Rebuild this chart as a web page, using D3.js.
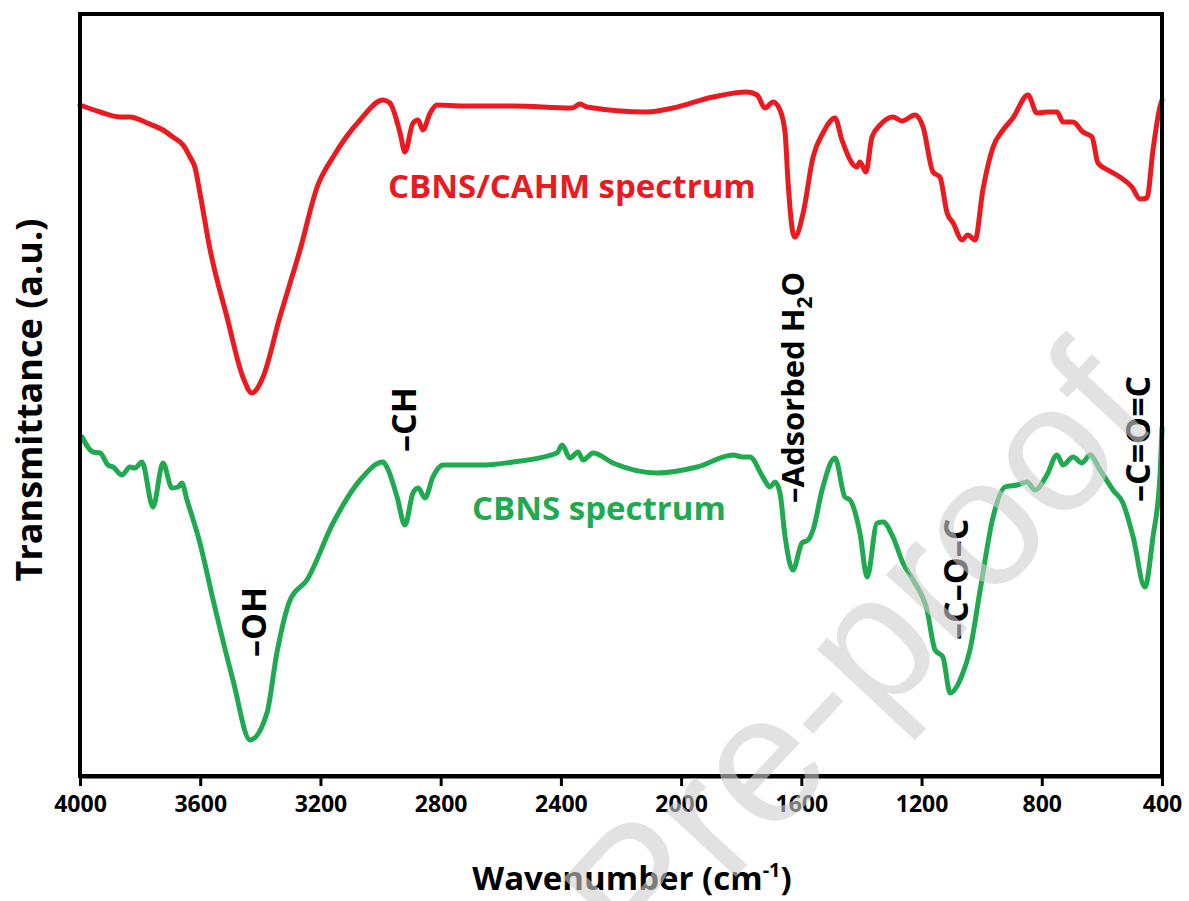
<!DOCTYPE html>
<html>
<head>
    <meta charset="utf-8">
    <title>FTIR spectra</title>
    <script src="https://cdnjs.cloudflare.com/ajax/libs/d3/7.8.5/d3.min.js"></script>
    <style>
        body { margin: 0; background: #fff; }
        text { font-family: "Open Sans", "DejaVu Sans", sans-serif; font-weight: bold; }
    </style>
</head>
<body>
<script type="text/javascript">
    // CBNS/CAHM spectrum (red) - wavenumber (cm-1) and transmittance (a.u.)
    var cahmWn = [4000, 3933, 3867, 3834, 3777, 3724, 3691, 3657, 3634, 3617, 3601, 3567, 3511, 3458, 3428,
        3391, 3335, 3311, 3268, 3211, 3158, 3068, 2992, 2969, 2935, 2919, 2892, 2875, 2859, 2835, 2812,
        2726, 2559, 2363, 2336, 2313, 2113, 2027, 1894, 1781, 1747, 1721, 1694, 1671, 1654, 1644, 1628,
        1621, 1594, 1561, 1528, 1488, 1465, 1415, 1405, 1385, 1365, 1338, 1295, 1265, 1222, 1195, 1162,
        1139, 1115, 1095, 1065, 1046, 1022, 996, 962, 929, 896, 846, 816, 783, 749, 729, 696, 663, 633,
        613, 580, 540, 500, 473, 450, 430, 407, 400];
    var cahmT = [671, 664, 659, 659, 653, 646, 639, 631, 619, 608, 583, 526, 459, 399, 383,
        399, 459, 483, 526, 589, 619, 656, 676, 673, 643, 624, 653, 656, 646, 663, 671,
        670, 670, 668, 672, 669, 664, 668, 679, 684, 681, 668, 674, 666, 643, 593, 543,
        539, 563, 619, 643, 658, 636, 609, 614, 604, 639, 651, 659, 655, 661, 649, 604,
        599, 563, 553, 536, 541, 536, 586, 629, 646, 658, 681, 663, 664, 664, 654, 654, 644, 639,
        613, 606, 599, 589, 577, 578, 626, 669, 676];

    // CBNS spectrum (green)
    var cbnsWn = [3993, 3957, 3933, 3907, 3890, 3860, 3834, 3817, 3794, 3757, 3724, 3694, 3674, 3661, 3644,
        3601, 3557, 3491, 3434, 3378, 3345, 3301, 3245, 3158, 3068, 2992, 2979, 2945, 2919, 2892, 2875,
        2852, 2826, 2792, 2669, 2559, 2413, 2396, 2370, 2343, 2326, 2293, 2227, 2080, 1947, 1827, 1794,
        1771, 1728, 1704, 1688, 1671, 1654, 1628, 1598, 1578, 1561, 1531, 1488, 1455, 1438, 1405, 1381,
        1348, 1328, 1295, 1262, 1228, 1182, 1155, 1129, 1105, 1065, 1039, 1005, 962, 922, 882, 849, 822,
        783, 749, 729, 696, 666, 640, 606, 563, 530, 496, 457, 430, 407, 400];
    var cbnsT = [339, 324, 323, 311, 309, 301, 309, 308, 314, 269, 313, 288, 289, 293, 276,
        233, 176, 96, 36, 63, 123, 176, 196, 253, 296, 314, 309, 279, 251, 283, 288,
        278, 299, 311, 311, 314, 323, 331, 318, 324, 316, 323, 313, 303, 309, 321, 319,
        319, 299, 289, 294, 283, 239, 206, 233, 236, 246, 286, 318, 279, 276, 243, 199,
        253, 254, 239, 213, 196, 166, 126, 119, 83, 101, 126, 186, 259, 289, 291, 294, 286,
        301, 321, 311, 319, 313, 321, 306, 286, 273, 239, 189, 239, 299, 348];

    var xTicks = [4000, 3600, 3200, 2800, 2400, 2000, 1600, 1200, 800, 400];

    // band labels: text, wavenumber of label baseline, transmittance where label starts
    var bandText = ["\u2013OH", "\u2013CH", "\u2013Adsorbed H", "\u2013C\u2013O\u2013C", "\u2013C=O=C"];
    var bandWn = [3381, 2883, 1590, 1046, 440];
    var bandT = [119, 324, 273, 136, 274];

    var seriesNames = ["CBNS/CAHM spectrum", "CBNS spectrum"];
    var seriesColors = ["#ea1a1f", "#1faa50"];

    var width = 1189,
        height = 901,
        mLeft = 80, mRight = 1162, mTop = 14, mBottom = 776;

    var x = d3.scaleLinear().domain([4000, 400]).range([mLeft, mRight]);
    var y = d3.scaleLinear().domain([0, 762]).range([mBottom, mTop]);

    var svg = d3.select("body").append("svg")
        .attr("width", width)
        .attr("height", height);

    var line = d3.line()
        .x(function(d){ return x(d[0]); })
        .y(function(d){ return y(d[1]); })
        .curve(d3.curveMonotoneX);

    var series = [d3.zip(cahmWn, cahmT), d3.zip(cbnsWn, cbnsT)];

    svg.selectAll("path.spec")
        .data(series)
        .enter().append("path")
        .attr("class", "spec")
        .attr("d", line)
        .attr("fill", "none")
        .attr("stroke", function(d, i){ return seriesColors[i]; })
        .attr("stroke-width", 5)
        .attr("stroke-linejoin", "round")
        .attr("stroke-linecap", "round");

    // frame
    svg.append("rect")
        .attr("x", mLeft).attr("y", mTop)
        .attr("width", mRight - mLeft).attr("height", mBottom - mTop)
        .attr("fill", "none").attr("stroke", "#000").attr("stroke-width", 4);

    var xAxis = d3.axisBottom(x).tickValues(xTicks).tickFormat(d3.format("d"))
        .tickSize(10).tickSizeOuter(0).tickPadding(10);
    var gx = svg.append("g")
        .attr("transform", "translate(0," + mBottom + ")")
        .call(xAxis);
    gx.select(".domain").attr("stroke-width", 4);
    gx.selectAll(".tick line").attr("stroke-width", 3);
    gx.selectAll(".tick text")
        .attr("fill", "#000")
        .style("font-size", "23px");

    // series labels
    svg.append("text")
        .attr("x", 388).attr("y", 198)
        .attr("fill", seriesColors[0])
        .style("font-size", "33px")
        .text(seriesNames[0]);
    svg.append("text")
        .attr("x", 472).attr("y", 520)
        .attr("fill", seriesColors[1])
        .style("font-size", "33px")
        .text(seriesNames[1]);

    // band annotations
    bandText.forEach(function(t, i){
        var tx = svg.append("text")
            .attr("transform", "translate(" + x(bandWn[i]) + "," + y(bandT[i]) + ") rotate(-90)")
            .attr("fill", "#000")
            .style("font-size", i === 2 ? "31px" : "34px")
            .text(t);
        if (i === 2) {
            tx.append("tspan").attr("dy", 8).style("font-size", "21px").text("2");
            tx.append("tspan").attr("dy", -8).text("O");
        }
    });

    // axis titles
    var xt = svg.append("text")
        .attr("x", 632).attr("y", 890)
        .attr("text-anchor", "middle")
        .style("font-size", "33px")
        .text("Wavenumber (cm");
    xt.append("tspan").attr("dy", -13).style("font-size", "20px").text("-1");
    xt.append("tspan").attr("dy", 13).text(")");

    svg.append("text")
        .attr("transform", "translate(42,400) rotate(-90)")
        .attr("text-anchor", "middle")
        .style("font-size", "36px")
        .text("Transmittance (a.u.)");

    // watermark
    svg.append("text")
        .attr("transform", "translate(1162,420) rotate(-47)")
        .attr("text-anchor", "end")
        .attr("fill", "#cfcfcf")
        .attr("opacity", 0.6)
        .style("font-family", "'Liberation Sans', Arial, sans-serif")
        .style("font-weight", "normal")
        .style("font-size", "182px")
        .text("Journal Pre-proof");
</script>
</body>
</html>
